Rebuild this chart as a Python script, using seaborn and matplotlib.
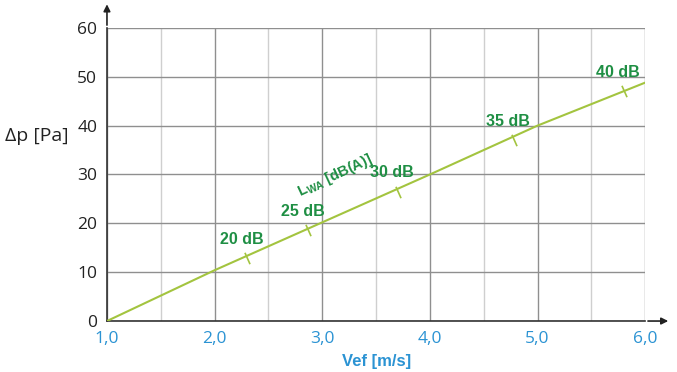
import matplotlib
matplotlib.use("Agg")
import matplotlib.pyplot as plt
from matplotlib.ticker import MultipleLocator, FuncFormatter
import seaborn as sns
import pandas as pd

# curve
vef = [1.0, 2.0, 3.0, 4.0, 5.0, 6.0]
dp = [0.0, 10.4, 20.2, 30.0, 40.0, 48.8]

# sound level marks along the curve
levels = ["20 dB", "25 dB", "30 dB", "35 dB", "40 dB"]
lvl_x = [2.30, 2.87, 3.70, 4.78, 5.80]
lvl_y = [12.9, 18.6, 26.5, 37.1, 47.0]

sns.set_style("white")
plt.rcParams["font.family"] = ["Open Sans", "DejaVu Sans"]

blue = "#2b93d3"
green = "#1f8f44"
line_col = "#a3c43f"

fig = plt.figure(figsize=(6.77, 3.72), dpi=100)
ax = fig.add_axes([0.158, 0.137, 0.795, 0.788])

df = pd.DataFrame({"vef": vef, "dp": dp})
sns.lineplot(data=df, x="vef", y="dp", ax=ax, color=line_col, linewidth=1.5, zorder=3)

ax.set_xlim(1, 6)
ax.set_ylim(0, 60)
ax.xaxis.set_major_locator(MultipleLocator(1))
ax.xaxis.set_minor_locator(MultipleLocator(0.5))
ax.yaxis.set_major_locator(MultipleLocator(10))
ax.xaxis.set_major_formatter(FuncFormatter(lambda v, p: f"{v:.1f}".replace(".", ",")))
ax.grid(which="major", color="#8f8f8f", linewidth=1.0)
ax.grid(which="minor", axis="x", color="#cfcfcf", linewidth=1.0)
ax.tick_params(axis="both", which="both", length=0)
ax.tick_params(axis="x", colors=blue, labelsize=12.5, pad=7)
ax.tick_params(axis="y", colors="#222222", labelsize=12.5, pad=7)

for s in ["top", "right"]:
    ax.spines[s].set_visible(False)
for s in ["left", "bottom"]:
    ax.spines[s].set_color("#333333")
    ax.spines[s].set_linewidth(1.2)

# arrows at the axis ends
ax.annotate("", xy=(0, 1.09), xytext=(0, 1.0), xycoords="axes fraction",
            arrowprops=dict(arrowstyle="-|>", color="#222222", lw=1.2), annotation_clip=False)
ax.annotate("", xy=(1.048, 0), xytext=(1.0, 0), xycoords="axes fraction",
            arrowprops=dict(arrowstyle="-|>", color="#222222", lw=1.2), annotation_clip=False)

ax.set_xlabel("Vef [m/s]", color=blue, fontsize=12, fontweight="bold",
              family=["Liberation Sans", "DejaVu Sans"], labelpad=5)
ax.set_ylabel("Δp [Pa]", color="#222222", fontsize=14, rotation=0)
ax.yaxis.set_label_coords(-0.13, 0.6)

# tick marks across the curve and their labels
for lab, x, y in zip(levels, lvl_x, lvl_y):
    ax.plot([x], [y], marker=(2, 0, 24), markersize=9, color=line_col, mew=1.2, zorder=4)
    ax.annotate(lab, (x, y), xytext=(-4, 8), textcoords="offset points", ha="center",
                va="bottom", color=green, fontsize=11.5, fontweight="bold",
                family=["Liberation Sans", "DejaVu Sans"])

ax.text(3.12, 29.8, r"L$_{\mathregular{WA}}$ [dB(A)]", rotation=25, ha="center", va="center",
        color=green, fontsize=10.5, fontweight="bold", family=["Liberation Sans", "DejaVu Sans"])

fig.savefig("out.png", dpi=100)
